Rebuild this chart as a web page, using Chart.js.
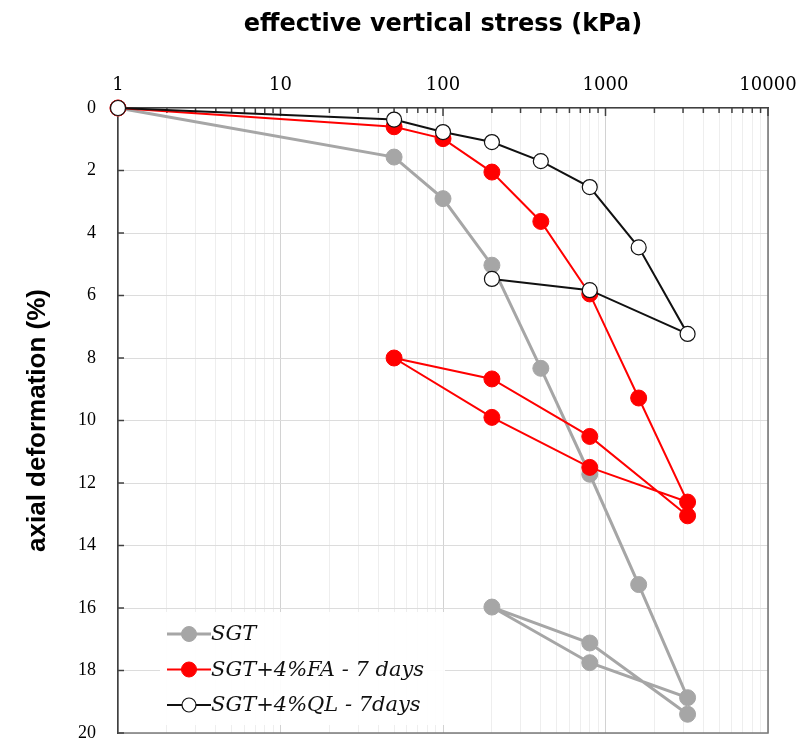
<!DOCTYPE html>
<html>
<head>
<meta charset="utf-8">
<script src="https://cdn.jsdelivr.net/npm/chart.js@4/dist/chart.umd.min.js"></script>
<style>
  html, body { margin: 0; padding: 0; background: #ffffff; }
  #wrap { width: 797px; height: 742px; }
</style>
</head>
<body>
<div id="wrap"><canvas id="chart" width="797" height="742"></canvas></div>
<script>
// Oedometer test: axial deformation against effective vertical stress (log scale)
const seriesLabels = ['SGT', 'SGT+4%FA - 7 days', 'SGT+4%QL - 7days'];

// Load / unload / reload path, in test order
const sgtStress  = [1, 50, 100, 200, 400, 800, 1600, 3200, 800, 200, 800, 3200];
const sgtStrain  = [0, 1.57, 2.9, 5.03, 8.33, 11.72, 15.25, 18.87, 17.75, 15.97, 17.12, 19.4];

const faStress   = [1, 50, 100, 200, 400, 800, 1600, 3200, 800, 200, 50, 200, 800, 3200];
const faStrain   = [0, 0.6, 0.98, 2.05, 3.63, 5.95, 9.28, 12.61, 11.5, 9.9, 8.0, 8.67, 10.51, 13.05];

const qlStress   = [1, 50, 100, 200, 400, 800, 1600, 3200, 800, 200];
const qlStrain   = [0, 0.37, 0.77, 1.09, 1.7, 2.53, 4.46, 7.23, 5.83, 5.47];

// Axis ticks
const xDecades   = [1, 10, 100, 1000, 10000];
const yTicks     = [0, 2, 4, 6, 8, 10, 12, 14, 16, 18, 20];

const toPoints = (xs, ys) => xs.map((x, i) => ({ x: x, y: ys[i] }));

// Minor log ticks between decades (2..9 x 10^n)
function logTickValues() {
  const vals = [];
  for (let d = 0; d < xDecades.length; d++) {
    vals.push(xDecades[d]);
    if (d < xDecades.length - 1) {
      for (let m = 2; m <= 9; m++) vals.push(m * xDecades[d]);
    }
  }
  return vals;
}

// Frame, inward tick marks and in-plot legend
const framePlugin = {
  id: 'frame',
  beforeDatasetsDraw(chart) {
    const { ctx, chartArea: a, scales } = chart;
    ctx.save();
    // right and bottom edges of the plot frame
    ctx.strokeStyle = '#7a7a7a';
    ctx.lineWidth = 1.6;
    ctx.beginPath();
    ctx.moveTo(a.right, a.top);
    ctx.lineTo(a.right, a.bottom);
    ctx.lineTo(a.left, a.bottom);
    ctx.stroke();
    // inward ticks along the top axis
    ctx.strokeStyle = '#404040';
    ctx.lineWidth = 1.5;
    scales.x.ticks.forEach(t => {
      const px = scales.x.getPixelForValue(t.value);
      const len = xDecades.includes(t.value) ? 8 : 5;
      ctx.beginPath();
      ctx.moveTo(px, a.top);
      ctx.lineTo(px, a.top + len);
      ctx.stroke();
    });
    // inward ticks along the left axis
    yTicks.forEach(v => {
      const py = scales.y.getPixelForValue(v);
      ctx.beginPath();
      ctx.moveTo(a.left, py);
      ctx.lineTo(a.left + 6, py);
      ctx.stroke();
    });
    ctx.restore();
  },
  afterDatasetsDraw(chart) {
    const { ctx, chartArea: a } = chart;
    const x0 = a.left + 42, y0 = a.bottom - 121;
    ctx.save();
    ctx.fillStyle = 'rgba(255,255,255,0.92)';
    ctx.fillRect(x0, y0, 285, 113);
    ctx.font = 'italic 21px "DejaVu Serif"';
    ctx.textBaseline = 'middle';
    chart.data.datasets.forEach((ds, i) => {
      const yy = y0 + 22 + i * 35.5;
      ctx.strokeStyle = ds.borderColor;
      ctx.lineWidth = ds.borderWidth;
      ctx.beginPath();
      ctx.moveTo(x0 + 7, yy);
      ctx.lineTo(x0 + 51, yy);
      ctx.stroke();
      ctx.beginPath();
      ctx.arc(x0 + 29, yy, ds.pointRadius - 0.5, 0, Math.PI * 2);
      ctx.fillStyle = ds.pointBackgroundColor;
      ctx.fill();
      ctx.lineWidth = ds.pointBorderWidth;
      ctx.strokeStyle = ds.pointBorderColor;
      ctx.stroke();
      ctx.fillStyle = '#111111';
      ctx.fillText(ds.label, x0 + 51, yy + 1);
    });
    ctx.restore();
  }
};

new Chart(document.getElementById('chart'), {
  type: 'scatter',
  data: {
    datasets: [
      {
        label: seriesLabels[0],
        data: toPoints(sgtStress, sgtStrain),
        showLine: true,
        borderColor: '#a6a6a6',
        borderWidth: 3,
        pointRadius: 8,
        pointBackgroundColor: '#a6a6a6',
        pointBorderColor: '#a6a6a6',
        pointBorderWidth: 1,
        clip: false,
        order: 3
      },
      {
        label: seriesLabels[1],
        data: toPoints(faStress, faStrain),
        showLine: true,
        borderColor: '#ff0000',
        borderWidth: 2,
        pointRadius: 8,
        pointBackgroundColor: '#ff0000',
        pointBorderColor: '#ff0000',
        pointBorderWidth: 1,
        clip: false,
        order: 2
      },
      {
        label: seriesLabels[2],
        data: toPoints(qlStress, qlStrain),
        showLine: true,
        borderColor: '#111111',
        borderWidth: 2,
        pointRadius: 7.5,
        pointBackgroundColor: '#ffffff',
        pointBorderColor: '#111111',
        pointBorderWidth: 1.2,
        clip: false,
        order: 1
      }
    ]
  },
  options: {
    responsive: false,
    animation: false,
    devicePixelRatio: 1,
    layout: { padding: { left: 0, top: 0, right: 29, bottom: 9 } },
    plugins: {
      legend: { display: false },
      tooltip: { enabled: false }
    },
    scales: {
      x: {
        type: 'logarithmic',
        position: 'top',
        min: 1,
        max: 10000,
        afterFit(scale) {
          scale.height = 108;
          scale.paddingLeft = 0;
          scale.paddingRight = 0;
        },
        afterBuildTicks(scale) {
          scale.ticks = logTickValues().map(v => ({ value: v, major: xDecades.includes(v) }));
        },
        ticks: {
          autoSkip: false,
          maxRotation: 0,
          padding: 12,
          color: '#000000',
          font: { family: '"DejaVu Serif", serif', size: 18 },
          callback: (v) => xDecades.includes(v) ? String(v) : ''
        },
        grid: {
          drawTicks: false,
          color: (c) => (c.tick && xDecades.includes(c.tick.value)) ? '#d2d2d2' : '#eeeeee',
          lineWidth: 1
        },
        border: { display: true, color: '#404040', width: 1.6 },
        title: {
          display: true,
          text: 'effective vertical stress (kPa)',
          color: '#000000',
          font: { family: '"DejaVu Sans", sans-serif', size: 24, weight: 'bold' },
          padding: { top: 10, bottom: 0 }
        }
      },
      y: {
        type: 'linear',
        reverse: true,
        min: 0,
        max: 20,
        afterFit(scale) {
          scale.width = 118;
          scale.paddingTop = 0;
          scale.paddingBottom = 0;
        },
        afterBuildTicks(scale) {
          scale.ticks = yTicks.map(v => ({ value: v }));
        },
        ticks: {
          padding: 22,
          color: '#000000',
          font: { family: '"Liberation Serif", "Times New Roman", serif', size: 18 }
        },
        grid: {
          drawTicks: false,
          color: '#dcdcdc',
          lineWidth: 1
        },
        border: { display: true, color: '#404040', width: 1.6 },
        title: {
          display: true,
          text: 'axial deformation (%)',
          color: '#000000',
          font: { family: '"Liberation Sans", Arial, sans-serif', size: 26, weight: 'bold' },
          padding: { top: 22, bottom: 0 }
        }
      }
    }
  },
  plugins: [framePlugin]
});
</script>
</body>
</html>
